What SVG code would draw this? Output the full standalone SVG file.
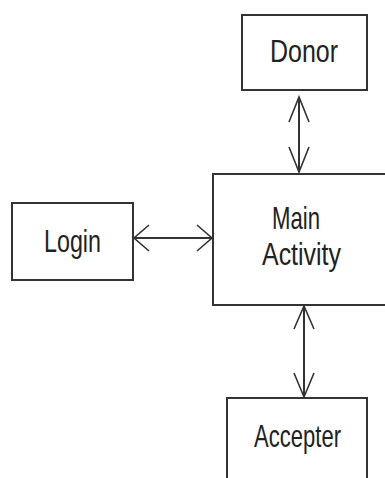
<svg xmlns="http://www.w3.org/2000/svg" width="385" height="478" viewBox="0 0 385 478">
<style>
.box{fill:#fff;stroke:#333;stroke-width:2}
.lbl{font-family:"Liberation Sans",Arial,sans-serif;font-size:32px;fill:#222}
.con{stroke:#333;stroke-width:2;fill:none}
.head{stroke:#333;stroke-width:1.6;fill:none}
</style>
<rect width="385" height="478" fill="#fff"/>
<g id="donor">
<rect class="box" x="242" y="15" width="125" height="75"/>
<text class="lbl" x="270" y="62" textLength="68" lengthAdjust="spacingAndGlyphs">Donor</text>
</g>
<g id="main">
<rect class="box" x="213" y="174" width="180" height="131"/>
<text class="lbl" x="272" y="229" textLength="48" lengthAdjust="spacingAndGlyphs">Main</text>
<text class="lbl" x="262" y="265" textLength="79" lengthAdjust="spacingAndGlyphs">Activity</text>
</g>
<g id="login">
<rect class="box" x="12" y="203" width="121" height="77"/>
<text class="lbl" x="44" y="252" textLength="57" lengthAdjust="spacingAndGlyphs">Login</text>
</g>
<g id="accepter">
<rect class="box" x="227" y="398" width="140" height="90"/>
<text class="lbl" x="254" y="447" textLength="87" lengthAdjust="spacingAndGlyphs">Accepter</text>
</g>
<g id="connectors">
<line class="con" x1="299" y1="97" x2="299" y2="172"/>
<polyline class="head" points="289,122 299,97 309,122"/>
<polyline class="head" points="289,147 299,172 309,147"/>
<line class="con" x1="134" y1="238" x2="212" y2="238"/>
<polyline class="head" points="149,225 134,238 149,251"/>
<polyline class="head" points="197,225 212,238 197,251"/>
<line class="con" x1="304" y1="306" x2="304" y2="397"/>
<polyline class="head" points="294,329 304,306 314,329"/>
<polyline class="head" points="294,373 304,397 314,373"/>
</g>
</svg>
